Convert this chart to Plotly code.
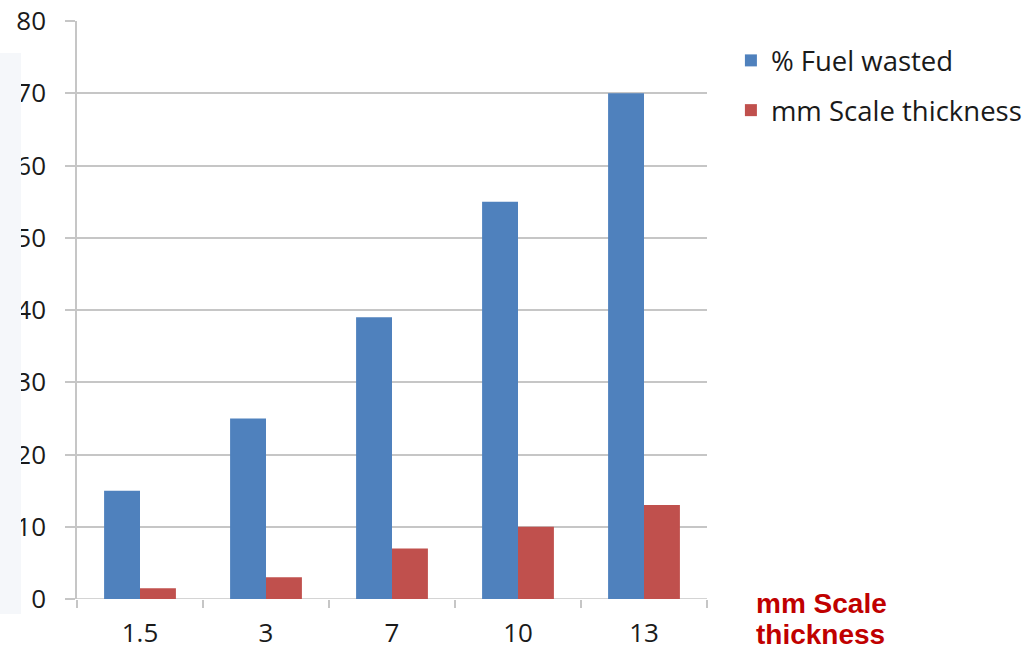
import plotly.graph_objects as go

# Scale thickness categories (mm) and the two series plotted per category
categories = ["1.5", "3", "7", "10", "13"]
fuel_wasted = [15, 25, 39, 55, 70]
scale_thickness = [1.5, 3, 7, 10, 13]
y_ticks = [0, 10, 20, 30, 40, 50, 60, 70, 80]

GRID = "#c6c6c6"
FONT = "Open Sans"

fig = go.Figure()
fig.add_trace(go.Bar(
    x=categories, y=fuel_wasted, name="% Fuel wasted",
    marker=dict(color="#4f81bd", line=dict(width=0)),
    legendgroup="a",
))
fig.add_trace(go.Bar(
    x=categories, y=scale_thickness, name="mm Scale thickness",
    marker=dict(color="#c0504d", line=dict(width=0)),
    legendgroup="b",
))

fig.update_layout(
    width=1028, height=650,
    margin=dict(l=77, r=321, t=21, b=51, autoexpand=False),
    paper_bgcolor="white", plot_bgcolor="white",
    barmode="group", bargap=0.43, bargroupgap=0,
    font=dict(family=FONT, size=26, color="#1a1a1a"),
    showlegend=True,
    legend=dict(
        xref="container", yref="container",
        x=0.711, xanchor="left", y=0.9446, yanchor="top",
        font=dict(family=FONT, size=27.5, color="#1a1a1a"),
        tracegroupgap=11, bgcolor="rgba(0,0,0,0)",
    ),
    xaxis=dict(
        type="category", tickson="boundaries", automargin=False,
        ticks="outside", ticklen=8, tickcolor=GRID, tickwidth=1.5,
        ticklabelstandoff=16,
        showline=False, showgrid=False, zeroline=False,
        tickfont=dict(family=FONT, size=26, color="#1a1a1a"),
    ),
    yaxis=dict(
        range=[0, 80], tickvals=y_ticks, automargin=False,
        ticks="outside", ticklen=10, tickcolor=GRID, tickwidth=1.5,
        ticklabelstandoff=14,
        showgrid=True, gridcolor=GRID, gridwidth=1.5,
        showline=True, linecolor=GRID, linewidth=1.5,
        zeroline=False,
        tickfont=dict(family=FONT, size=26, color="#1a1a1a"),
    ),
    shapes=[
        # pale side panel along the left edge
        dict(type="rect", xref="paper", yref="paper", layer="above",
             x0=-0.1222, x1=-0.0889, y0=-0.026, y1=0.9446,
             fillcolor="#f5f7fa", line=dict(width=0)),
        # baseline across the plot
        dict(type="line", xref="paper", yref="y", x0=0, x1=1, y0=0, y1=0,
             line=dict(color=GRID, width=1.5), layer="below"),
    ],
    annotations=[
        dict(text="mm Scale", xref="paper", yref="paper",
             x=1.075, y=0.022, xanchor="left", yanchor="top",
             showarrow=False, align="left",
             font=dict(family="Liberation Sans", size=28, color="#c00000",
                       weight="bold")),
        dict(text="thickness", xref="paper", yref="paper",
             x=1.075, y=-0.032, xanchor="left", yanchor="top",
             showarrow=False, align="left",
             font=dict(family="Liberation Sans", size=28, color="#c00000",
                       weight="bold")),
    ],
)

fig.write_html("out.html")
